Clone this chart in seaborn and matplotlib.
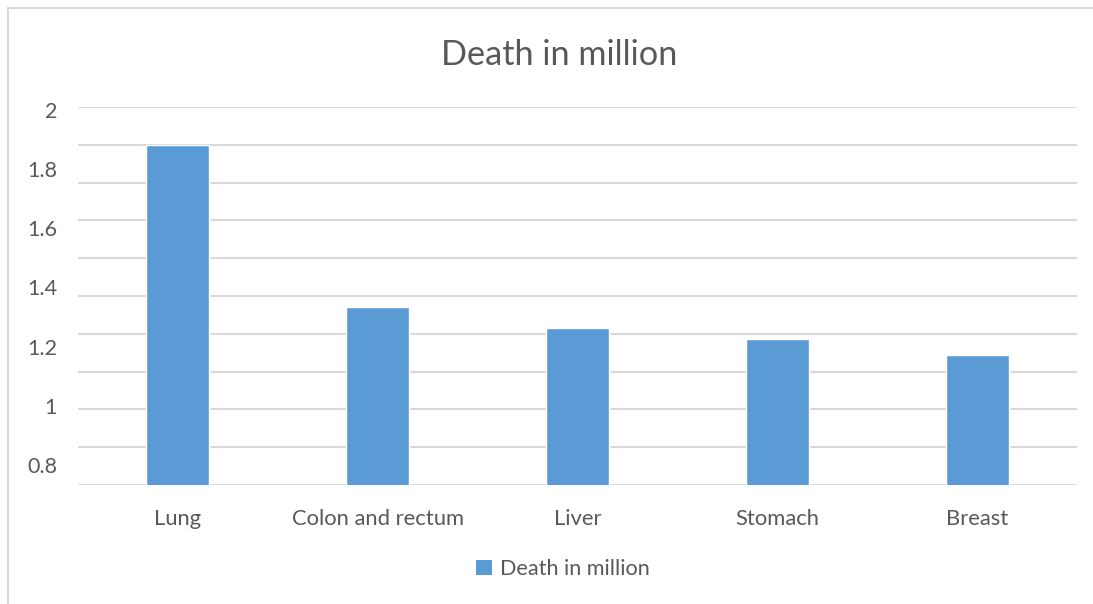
import matplotlib
matplotlib.use("Agg")
import matplotlib.pyplot as plt
from matplotlib.lines import Line2D
from matplotlib.patches import Patch
import numpy as np
import pandas as pd
import seaborn as sns

# Cancer deaths by site (millions)
categories = ["Lung", "Colon and rectum", "Liver", "Stomach", "Breast"]
deaths = [1.88, 1.333, 1.262, 1.225, 1.171]
y_ticks = [0.8, 1.0, 1.2, 1.4, 1.6, 1.8, 2.0]
y_tick_labels = ["0.8", "1", "1.2", "1.4", "1.6", "1.8", "2"]
series_name = "Death in million"

BAR = "#5b9bd5"
GRID = "#d9d9d9"
TEXT = "#595959"
FONT = ["Lato", "DejaVu Sans"]

sns.set_theme(style="white")
plt.rcParams["font.family"] = FONT

df = pd.DataFrame({"site": categories, "deaths": deaths})

fig = plt.figure(figsize=(10.93, 6.04), dpi=100)
ax = fig.add_axes([78 / 1093, 1 - 485 / 604, (1077 - 78) / 1093, (485 - 107) / 604])

ymin, ymax = 0.732, 2.01
# horizontal rules: ten equal bands across the value range
for gy in np.linspace(ymin, ymax, 11):
    ax.axhline(gy, color=GRID, lw=1.5, zorder=0)

sns.barplot(data=df, x="site", y="deaths", color=BAR, width=0.315,
            saturation=1, ax=ax, zorder=2)
ax.set_ylim(ymin, ymax)
ax.set_xlim(-0.5, len(categories) - 0.5)

ax.set_yticks(y_ticks)
ax.set_yticklabels(y_tick_labels)
ax.tick_params(axis="y", length=0, pad=15, labelsize=15.5, labelcolor=TEXT)
ax.tick_params(axis="x", length=0, pad=17, labelsize=15.8, labelcolor=TEXT)
ax.set_xlabel("")
ax.set_ylabel("")
for s in ax.spines.values():
    s.set_visible(False)
ax.grid(False)

fig.text(559 / 1093, 1 - 55 / 604, "Death in million", ha="center", va="center",
         fontsize=24.7, color=TEXT)

handles = [Patch(facecolor=BAR, edgecolor="none")]
fig.legend(handles, [series_name], loc="center", bbox_to_anchor=(563 / 1093, 1 - 569 / 604),
           frameon=False, fontsize=15.6, labelcolor=TEXT, handlelength=0.75,
           handleheight=0.75, handletextpad=0.35)

# outer chart frame (top and left edges)
fig.add_artist(Line2D([8 / 1093, 8 / 1093], [0, 1 - 8 / 604], transform=fig.transFigure,
                      color=GRID, lw=1.5))
fig.add_artist(Line2D([8 / 1093, 1], [1 - 8 / 604, 1 - 8 / 604], transform=fig.transFigure,
                      color=GRID, lw=1.5))

fig.savefig("out.png", dpi=100, facecolor="white")
